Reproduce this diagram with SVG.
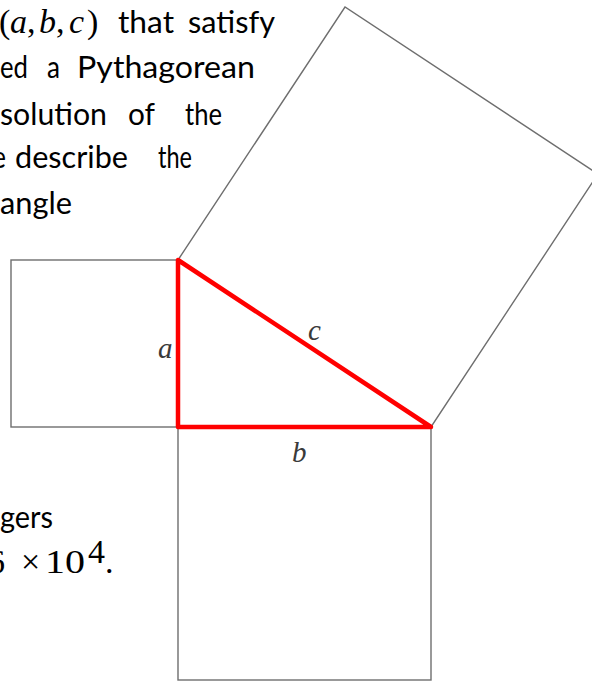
<svg xmlns="http://www.w3.org/2000/svg" width="592" height="681" viewBox="0 0 592 681">
<style>
.sq{fill:none;stroke:#6e6e6e;stroke-width:1.4}
.tri{fill:none;stroke:#ff0000;stroke-width:4.5;stroke-linejoin:round}
.body{font-family:Lato,"Liberation Sans",sans-serif;font-size:30px;fill:#000}
.math{font-family:"Liberation Serif",serif;font-size:34px;fill:#000}
.it{font-style:italic}
.lbl{font-family:"Liberation Serif",serif;font-style:italic;font-size:29px;fill:#3a3a3a}
</style>
<rect width="592" height="681" fill="#fff"/>
<g id="text-top">
<text class="math" y="33"><tspan x="-1">(</tspan><tspan x="10" class="it">a</tspan><tspan x="27">,</tspan><tspan x="39" class="it">b</tspan><tspan x="56">,</tspan><tspan x="69" class="it">c</tspan><tspan x="87">)</tspan></text>
<text class="body" x="118" y="33" textLength="56" lengthAdjust="spacingAndGlyphs">that</text>
<text class="body" x="188" y="33" textLength="87" lengthAdjust="spacingAndGlyphs">satisfy</text>
<text class="body" x="0" y="78" textLength="28" lengthAdjust="spacingAndGlyphs">ed</text>
<text class="body" x="47" y="78" textLength="13" lengthAdjust="spacingAndGlyphs">a</text>
<text class="body" x="77" y="78" textLength="178" lengthAdjust="spacingAndGlyphs">Pythagorean</text>
<text class="body" x="0" y="125" textLength="107" lengthAdjust="spacingAndGlyphs">solution</text>
<text class="body" x="128" y="125" textLength="27" lengthAdjust="spacingAndGlyphs">of</text>
<text class="body" x="185" y="125" textLength="37" lengthAdjust="spacingAndGlyphs">the</text>
<text class="body" x="-8" y="168" textLength="14" lengthAdjust="spacingAndGlyphs">e</text>
<text class="body" x="15" y="168" textLength="113" lengthAdjust="spacingAndGlyphs">describe</text>
<text class="body" x="158" y="168" textLength="34" lengthAdjust="spacingAndGlyphs">the</text>
<text class="body" x="0" y="214" textLength="72" lengthAdjust="spacingAndGlyphs">angle</text>
</g>
<g id="text-bottom">
<text class="body" x="0" y="528" textLength="53" lengthAdjust="spacingAndGlyphs">gers</text>
<text class="math" y="573"><tspan x="-12">6</tspan><tspan x="21">×</tspan></text>
<text class="math" x="45" y="573" textLength="40" lengthAdjust="spacingAndGlyphs">10</text>
<text class="math" x="88" y="563" font-size="22">4</text>
<text class="math" x="105" y="573">.</text>
</g>
<g id="square-a"><rect class="sq" x="11" y="260" width="167" height="167"/></g>
<g id="square-b"><rect class="sq" x="178" y="427" width="253" height="253"/></g>
<g id="square-c"><polygon class="sq" points="178,260 345,7 598,174 431,427"/></g>
<g id="triangle"><polygon class="tri" points="178,260 178,427 431,427"/></g>
<g id="labels">
<text class="lbl" x="158" y="358">a</text>
<text class="lbl" x="308" y="340">c</text>
<text class="lbl" x="292" y="462">b</text>
</g>
</svg>
